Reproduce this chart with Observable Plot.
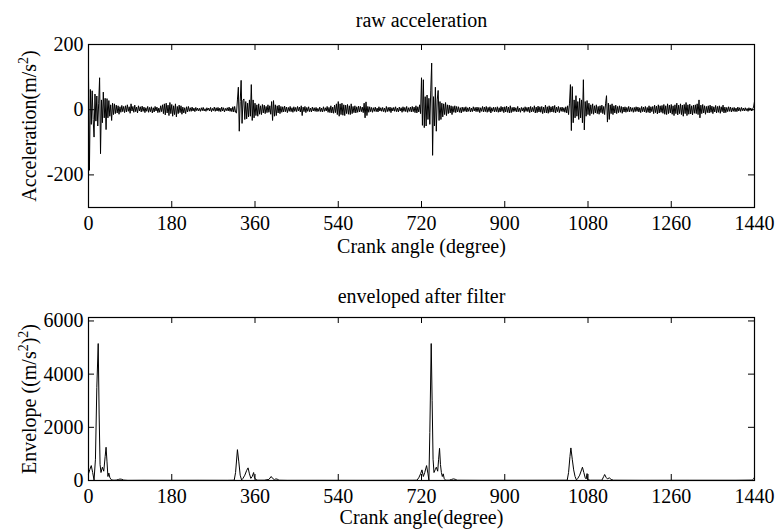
<!DOCTYPE html>
<html>
<head>
<meta charset="utf-8">
<script src="https://cdn.jsdelivr.net/npm/d3@7"></script>
<script src="https://cdn.jsdelivr.net/npm/@observablehq/plot@0.6"></script>
<style>
  html, body { margin: 0; padding: 0; background: #fff; }
  #chart svg { display: block; }
</style>
</head>
<body>
<div id="chart"></div>
<script>
// ---- data ----
const xTicks = [0, 180, 360, 540, 720, 900, 1080, 1260, 1440];
const accelTicks = [-200, 0, 200];
const envTicks = [0, 2000, 4000, 6000];

// raw acceleration, one sample every 2 degrees (0 .. 1440)
const accelStep = 2;
const accel = [
  105, -186, 62, -45, 58, -30, -84, 48, -35, 42,
  -50, 20, 98, -135, 30, -40, 54, -25, 35, -61,
  34, -25, 28, -20, 15, -33, 20, -15, 18, -12,
  14, -10, 12, -14, 9, -8, 13, -6, 10, -9,
  12, -7, 15, -5, 9, -11, 18, -4, 10, -8,
  14, -6, 8, -10, 12, -4, 9, -7, 11, -5,
  8, -9, 6, -5, 10, -8, 7, -6, 9, -10,
  6, -7, 10, -4, 8, -9, 5, -8, 12, -6,
  15, -12, 18, -16, 20, -10, 14, -18, 22, -12,
  16, -20, 12, -15, 18, -22, 10, -12, 14, -9,
  12, -14, 8, -10, 6, -12, 9, -7, 10, -5,
  6, -5, 8, -4, 5, -6, 7, -3, 5, -4,
  4, -5, 6, -3, 7, -4, 3, -5, 6, -2,
  5, -4, 7, -6, 4, -3, 8, -5, 6, -4,
  7, -5, 5, -6, 8, -4, 6, -7, 4, -3,
  6, -4, 8, -5, 5, -6, 9, -7, 10, -8,
  -10, 30, 69, -66, 25, 90, -42, 28, 33, -30,
  25, -28, 20, -22, 30, -20, 77, -33, 30, -25,
  20, -18, 15, -20, 18, -14, 12, -15, 16, -10,
  14, -12, 10, -9, 15, -8, 12, -14, 25, -33,
  28, -20, 15, -18, 12, -10, 14, -12, 10, -8,
  9, -7, 11, -6, 8, -9, 7, -5, 10, -6,
  6, -8, 9, -5, 7, -6, 10, -4, 8, -7,
  12, -18, 8, -6, 10, -9, 7, -5, 9, -6,
  5, -7, 8, -4, 6, -5, 7, -6, 4, -5,
  8, -6, 5, -7, 9, -5, 6, -4, 10, -8,
  7, -9, 12, -10, 8, -11, 14, -9, 18, -15,
  25, -20, 18, -15, 20, -17, 15, -18, 14, -12,
  16, -14, 12, -15, 18, -12, 10, -9, 12, -10,
  9, -8, 11, -7, 10, -6, 8, -9, 20, -25,
  24, -18, 10, -8, 9, -6, 7, -8, 6, -5,
  8, -6, 5, -7, 9, -4, 6, -5, 7, -6,
  5, -8, 10, -6, 7, -5, 8, -9, 6, -4,
  7, -5, 9, -6, 5, -7, 8, -4, 6, -8,
  9, -5, 7, -6, 10, -8, 6, -5, 8, -7,
  10, -6, 8, -9, 12, -10, 9, -7, 15, -12,
  98, -48, 92, -55, 40, -50, 45, -30, 35, -45,
  60, 143, -140, 40, -50, 69, -66, 30, 59, -33,
  25, -30, 20, -22, 18, -15, 22, -18, 15, -12,
  14, -10, 12, -15, 10, -8, 12, -9, 10, -7,
  9, -8, 6, -10, 8, -6, 7, -5, 9, -7,
  6, -5, 8, -7, 5, -6, 9, -4, 7, -6,
  8, -6, 7, -9, 6, -5, 10, -7, 8, -6,
  10, -8, 7, -6, 9, -10, 6, -5, 8, -7,
  7, -6, 9, -8, 6, -7, 10, -5, 8, -9,
  9, -7, 11, -8, 8, -10, 12, -9, 7, -6,
  8, -5, 6, -7, 10, -6, 5, -8, 7, -4,
  6, -8, 9, -5, 7, -6, 8, -9, 10, -7,
  7, -6, 12, -10, 8, -9, 11, -7, 9, -8,
  10, -12, 8, -9, 14, -10, 9, -11, 12, -8,
  9, -7, 11, -8, 13, -10, 8, -6, 10, -9,
  7, -5, 8, -6, 6, -8, 9, -10, 12, -15,
  20, 77, -64, 71, -40, 30, -25, 43, -20, 25,
  -30, 35, -25, 30, -40, 92, -62, 25, -20, 28,
  -15, 20, -18, 15, -12, 18, -14, 12, -10, 15,
  -12, 10, -14, 12, -9, 14, -12, 10, -15, 18,
  43, -38, 20, -30, 15, -12, 18, -15, 12, -10,
  14, -12, 10, -9, 12, -8, 10, -11, 8, -7,
  9, -8, 7, -6, 10, -7, 8, -5, 6, -8,
  7, -6, 9, -5, 8, -7, 6, -9, 10, -6,
  8, -7, 10, -9, 7, -8, 12, -10, 9, -6,
  10, -12, 14, -9, 11, -13, 15, -10, 12, -8,
  13, -11, 16, -14, 12, -15, 18, -12, 14, -10,
  16, -14, 12, -18, 15, -12, 20, -16, 14, -12,
  18, -15, 14, -20, 16, -12, 22, -18, 15, -14,
  17, -13, 12, -16, 14, -11, 15, -12, 18, -15,
  30, -25, 14, -12, 16, -10, 12, -14, 10, -9,
  12, -10, 14, -8, 11, -12, 9, -7, 13, -10,
  10, -8, 12, -11, 9, -6, 14, -10, 8, -9,
  7, -6, 9, -5, 8, -7, 6, -5, 7, -6,
  5, -6, 8, -4, 6, -5, 7, -3, 5, -4,
  6, -3, 4, -5, 6, -2, 5, -4, 3, 8,
  25
];

// envelope after filter
const envAngle = [
  0, 3, 6, 9, 12, 15, 18, 21, 23, 25, 27, 30, 33, 36, 38, 40, 42, 44, 46, 48, 50, 55, 60, 65, 68, 72, 76, 85,
  120, 180, 240, 300, 315, 318, 322, 325, 328, 331, 334, 338, 342, 345, 348, 351, 354, 357, 359, 362, 366,
  380, 390, 395, 398, 402, 405, 408, 412, 430, 500, 600, 700,
  710, 714, 718, 721, 724, 727, 731, 734, 736, 738, 741, 743, 745, 747, 750, 752, 755, 757, 759, 761, 763, 765, 767, 769, 772,
  780, 785, 789, 793, 797, 850, 950, 1035,
  1038, 1041, 1043, 1046, 1049, 1052, 1055, 1058, 1062, 1066, 1068, 1071, 1074, 1076, 1078, 1079, 1085,
  1110, 1114, 1116, 1119, 1122, 1126, 1130, 1135, 1200, 1300, 1400, 1435, 1438, 1440
];
const envValue = [
  250, 420, 560, 300, 20, 800, 3500, 5150, 2500, 600, 300, 500, 350, 900, 1250, 700, 150, 280, 120, 60, 20, 10, 15, 40, 55, 45, 15, 5,
  8, 6, 8, 6, 10, 300, 1160, 700, 200, 20, 80, 200, 380, 475, 250, 80, 150, 300, 100, 30, 10,
  10, 40, 150, 80, 30, 60, 50, 10, 5, 6, 5, 8,
  10, 100, 250, 400, 150, 300, 560, 250, 20, 1800, 5150, 3000, 800, 300, 420, 500, 350, 800, 1210, 600, 300, 150, 250, 80, 10,
  10, 40, 60, 45, 10, 6, 8, 10,
  300, 900, 1225, 800, 400, 150, 20, 80, 200, 400, 500, 300, 100, 60, 260, 30, 10,
  10, 150, 225, 120, 60, 100, 40, 10, 6, 8, 8, 15, 60, 120
];

// axis label pieces: [text, isSuperscript]
const accelLabelParts = [["Acceleration(m/s", false], ["2", true], [")", false]];
const envLabelParts = [["Envelope ((m/s", false], ["2", true], [")", false], ["2", true], [")", false]];

// ---- build tables ----
const accelData = accel.map((v, i) => ({angle: i * accelStep, value: v}));
const envData = envAngle.map((a, i) => ({angle: a, value: envValue[i]}));

const W = 776;
const FS = 20;
const FONT = "'Liberation Serif', 'Times New Roman', serif";

function panel({data, yDomain, yTicks, height, mt, mb, title, titleDy, xLabel, yLabelParts, xLabelOffset, yLabelOffset}) {
  const ml = 88, mr = 22;
  const fw = W - ml - mr;
  const fh = height - mt - mb;
  const tl = 6; // inward tick length
  const yLabel = yLabelParts.map(p => p[0]).join("");
  const svg = Plot.plot({
    width: W,
    height,
    marginLeft: ml,
    marginRight: mr,
    marginTop: mt,
    marginBottom: mb,
    style: {fontFamily: FONT, fontSize: FS + "px", background: "#fff", color: "#000"},
    x: {domain: [0, 1440]},
    y: {domain: yDomain},
    marks: [
      Plot.line(data, {x: "angle", y: "value", stroke: "#000", strokeWidth: 1}),
      Plot.frame({stroke: "#000", strokeWidth: 1.2}),
      // inward ticks (bottom, top, left, right)
      Plot.tickX(xTicks, {x: d => d, insetTop: fh - tl, stroke: "#000"}),
      Plot.tickX(xTicks, {x: d => d, insetBottom: fh - tl, stroke: "#000"}),
      Plot.tickY(yTicks, {y: d => d, insetRight: fw - tl, stroke: "#000"}),
      Plot.tickY(yTicks, {y: d => d, insetLeft: fw - tl, stroke: "#000"}),
      Plot.axisX({ticks: xTicks, tickSize: 0, tickPadding: 8, tickFormat: d => String(d),
        label: xLabel, labelAnchor: "center", labelOffset: xLabelOffset, labelArrow: "none", fontSize: FS}),
      Plot.axisY({ticks: yTicks, tickSize: 0, tickPadding: 5, tickFormat: d => String(d).replace("−", "-"),
        label: yLabel, labelAnchor: "center", labelOffset: yLabelOffset, labelArrow: "none", fontSize: FS}),
      Plot.text([title], {frameAnchor: "top", dy: titleDy, lineAnchor: "bottom", fontSize: FS, text: d => d})
    ]
  });
  // render superscripts in the y-axis label
  d3.select(svg).selectAll("text").filter(function () { return this.textContent === yLabel; })
    .each(function () {
      const t = d3.select(this);
      t.text(null);
      let raised = false;
      for (const [s, sup] of yLabelParts) {
        const sp = t.append("tspan").text(s);
        if (sup && !raised) { sp.attr("dy", "-8").attr("font-size", "70%"); raised = true; }
        else if (!sup && raised) { sp.attr("dy", "8"); raised = false; }
        else if (sup) sp.attr("font-size", "70%");
      }
    });
  return svg;
}

const topPanel = panel({
  data: accelData, yDomain: [-300, 200], yTicks: accelTicks,
  height: 270, mt: 44, mb: 63,
  title: "raw acceleration", titleDy: -18, xLabel: "Crank angle (degree)", yLabelParts: accelLabelParts,
  xLabelOffset: 45, yLabelOffset: 67
});
const bottomPanel = panel({
  data: envData, yDomain: [0, 6130], yTicks: envTicks,
  height: 259, mt: 47, mb: 49,
  title: "enveloped after filter", titleDy: -15, xLabel: "Crank angle(degree)", yLabelParts: envLabelParts,
  xLabelOffset: 43, yLabelOffset: 67
});

const root = document.getElementById("chart");
root.appendChild(topPanel);
root.appendChild(bottomPanel);
</script>
</body>
</html>
